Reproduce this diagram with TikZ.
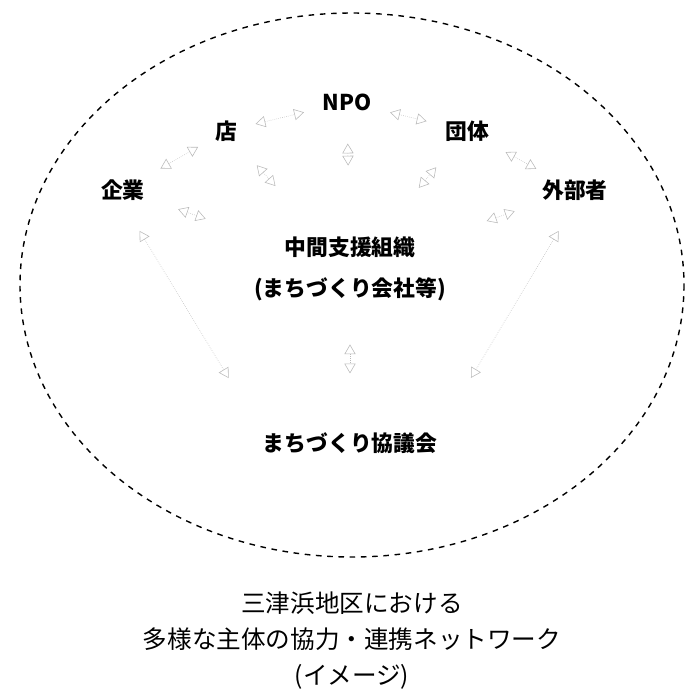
\documentclass[tikz,border=0pt]{standalone}
\usepackage{fontspec}
\newfontfamily\jpfont{Noto Sans CJK JP}
\usetikzlibrary{arrows.meta}

\begin{document}
\begin{tikzpicture}[
    x=0.25mm, y=-0.25mm,
    font=\jpfont\fontsize{15.5}{19}\selectfont,
    actor/.style={inner sep=2pt, align=center, font=\jpfont\bfseries\fontsize{15.5}{29.5}\selectfont},
    link/.style={{Triangle[open,length=7pt,width=8pt]}-{Triangle[open,length=7pt,width=8pt]}, draw=gray!55, densely dotted, thin, shorten <=3pt, shorten >=3pt},
    caption/.style={font=\jpfont\fontsize{17.5}{25.6}\selectfont, align=center}
]
\useasboundingbox (0,0) rectangle (685,697);

% network boundary
\draw[line width=1pt, dash pattern=on 4pt off 4pt] (352,285) ellipse [x radius=332, y radius=272];

% actors
\node[actor] (npo) at (347,102) {NPO};
\node[actor] (shop) at (226,131) {店};
\node[actor] (group) at (467,131) {団体};
\node[actor] (firm) at (123,190) {企業};
\node[actor] (outer) at (575,190) {外部者};
\node[actor] (mid) at (350,269) {中間支援組織\\(まちづくり会社等)};
\node[actor] (council) at (350,443) {まちづくり協議会};

% links between neighbours
\draw[link, shorten <=4mm, shorten >=4mm] (shop) -- (npo);
\draw[link, shorten <=4mm, shorten >=4mm] (npo) -- (group);
\draw[link, shorten <=4mm, shorten >=4mm] (firm) -- (shop);
\draw[link, shorten <=4mm, shorten >=4mm] (group) -- (outer);

% links to the support organisation
\foreach \n/\a/\b in {firm/12mm/8mm, shop/16mm/7mm, npo/17mm/7.5mm, group/15mm/7.5mm, outer/10mm/6.5mm, council/10mm/14mm}
    \draw[link, shorten <=\a, shorten >=\b] (mid) -- (\n);
\draw[link, shorten <=8mm, shorten >=15mm] (firm.south) -- (council.north west);
\draw[link, shorten <=8mm, shorten >=15mm] (outer.south) -- (council.north east);

% caption
\node[caption] (title) at (352,641) {三津浜地区における\\多様な主体の協力・連携ネットワーク\\(イメージ)};
\end{tikzpicture}
\end{document}
